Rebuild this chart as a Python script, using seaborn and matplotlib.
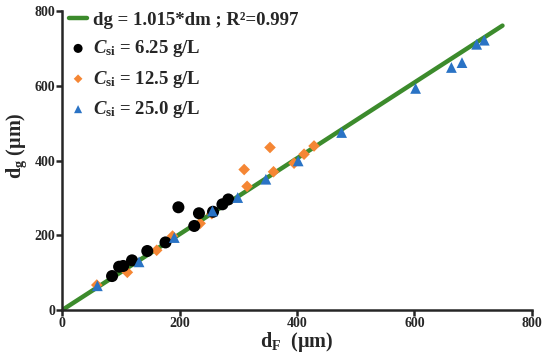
import matplotlib
matplotlib.use("Agg")
import matplotlib.pyplot as plt
import numpy as np
import pandas as pd
import seaborn as sns

sns.set_style("ticks")
plt.rcParams['font.family'] = ['Liberation Serif', 'DejaVu Serif']
plt.rcParams['font.weight'] = 'bold'
plt.rcParams['mathtext.fontset'] = 'custom'
plt.rcParams['mathtext.rm'] = 'Liberation Serif:bold'
plt.rcParams['mathtext.it'] = 'Liberation Serif:italic:bold'
plt.rcParams['mathtext.bf'] = 'Liberation Serif:bold'

# datos
fit_x = [0, 750]
fit_y = [0, 761]

c625_x = [85, 97, 104, 119, 145, 176, 198, 225, 233, 257, 273, 283]
c625_y = [91, 116, 118, 133, 158, 181, 275, 225, 259, 263, 283, 296]

c125_x = [59, 111, 161, 188, 235, 255, 310, 315, 354, 360, 395, 412, 429]
c125_y = [67, 101, 160, 198, 232, 258, 376, 331, 435, 370, 393, 417, 439]

c250_x = [60, 131, 191, 256, 299, 347, 402, 476, 602, 663, 681, 706, 719]
c250_y = [65, 129, 194, 265, 301, 350, 399, 475, 593, 649, 662, 711, 722]

etiquetas = ['dg = 1.015*dm ; R²=0.997',
             r'$C_{\mathrm{si}}$ = 6.25 g/L',
             r'$C_{\mathrm{si}}$ = 12.5 g/L',
             r'$C_{\mathrm{si}}$ = 25.0 g/L']
ticks = [0, 200, 400, 600, 800]

verde = '#3c8b2c'
negro = '#000000'
naranja = '#f58634'
azul = '#2a73c5'

fig = plt.figure(figsize=(5.5, 3.56), dpi=100)
ax = fig.add_axes([0.113, 0.129, 0.854, 0.840])

sns.lineplot(x=fit_x, y=fit_y, ax=ax, color=verde, linewidth=3.2,
             label=etiquetas[0], zorder=1)
sns.scatterplot(x=c625_x, y=c625_y, ax=ax, color=negro, marker='o', s=75,
                edgecolor='none', label=etiquetas[1], zorder=3)
sns.scatterplot(x=c125_x, y=c125_y, ax=ax, color=naranja, marker='D', s=35,
                edgecolor='none', label=etiquetas[2], zorder=2)
sns.scatterplot(x=c250_x, y=c250_y, ax=ax, color=azul, marker='^', s=60,
                edgecolor='none', label=etiquetas[3], zorder=4)

ax.set_xlim(0, 800)
ax.set_ylim(0, 800)
ax.set_xticks(ticks)
ax.set_yticks(ticks)
ax.tick_params(labelsize=10, width=1.8, length=4, direction='out', pad=1)
for lab in ax.get_xticklabels() + ax.get_yticklabels():
    lab.set_fontweight('bold')
for s in ['left', 'bottom']:
    ax.spines[s].set_linewidth(1.8)
sns.despine(ax=ax)

ax.set_xlabel(r'd$_{\mathrm{F}}$  (μm)', fontsize=14.5, fontweight='bold', labelpad=0)
ax.set_ylabel(r'd$_{\mathrm{g}}$ (μm)', fontsize=14.5, fontweight='bold')
ax.yaxis.set_label_coords(-0.07, 0.55)

leg = ax.legend(loc='upper left', bbox_to_anchor=(-0.01, 1.035), frameon=False,
                fontsize=13.5, handlelength=1.0, handletextpad=0.3,
                labelspacing=0.5, borderaxespad=0.2, markerscale=0.75)
for t in leg.get_texts():
    t.set_fontweight('bold')

fig.savefig('out.png', dpi=100)
